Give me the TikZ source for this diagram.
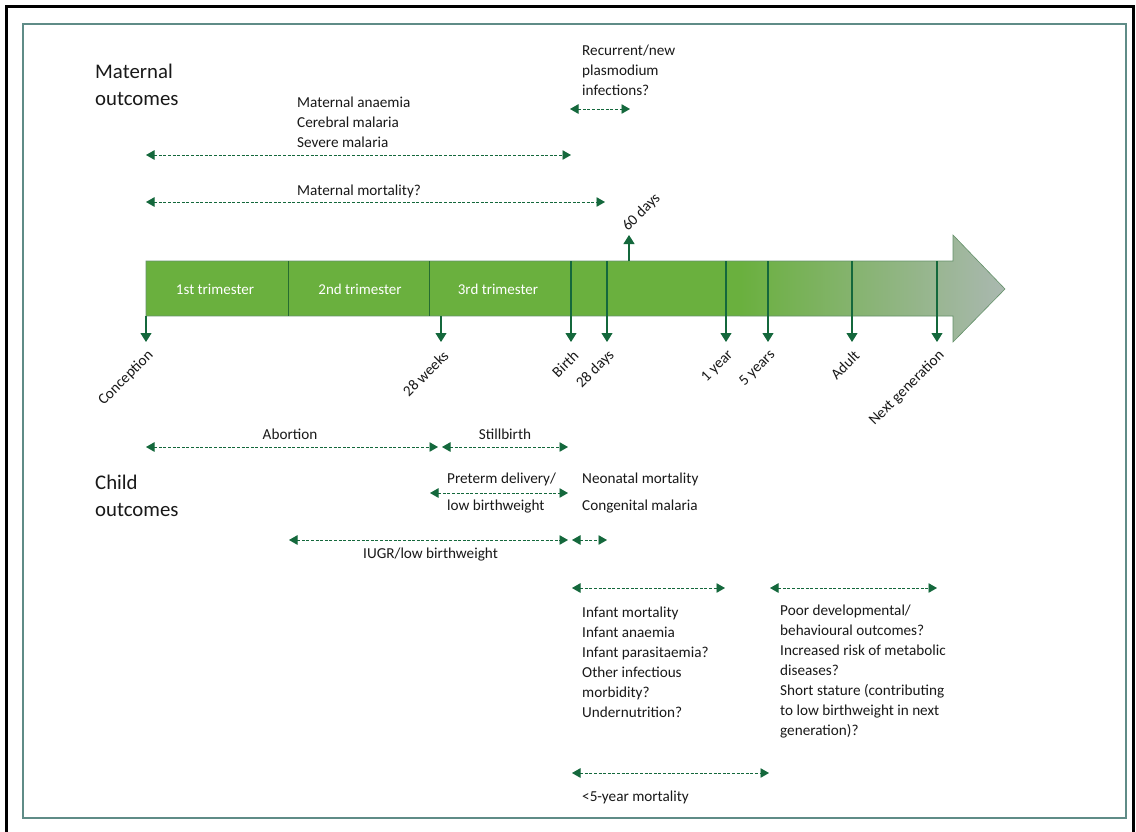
\documentclass[tikz,border=0pt]{standalone}
\usepackage{fontspec}
\setmainfont{Carlito}
\usetikzlibrary{arrows.meta}
\definecolor{barg}{RGB}{106,176,62}
\definecolor{midg}{RGB}{140,180,125}
\definecolor{fadeg}{RGB}{170,184,176}
\definecolor{darkg}{RGB}{20,104,60}
\definecolor{divg}{RGB}{38,108,48}
\definecolor{framec}{RGB}{95,140,135}
\definecolor{edgec}{RGB}{100,145,105}
\definecolor{txtc}{RGB}{25,25,25}
\tikzset{
  dsh/.style={darkg, line width=0.9pt, dash pattern=on 3pt off 1.6pt,
    {Triangle[length=8.5pt,width=9.5pt]}-{Triangle[length=8.5pt,width=9.5pt]}},
  tick/.style={darkg, line width=1.1pt, -{Triangle[length=9pt,width=11pt]}},
  txt/.style={font=\fontsize{15.2}{20}\selectfont, text=txtc, inner sep=0pt, align=left},
  head/.style={font=\fontsize{20.8}{27}\selectfont, text=txtc, inner sep=0pt, align=left},
  rlab/.style={txt, rotate=45, anchor=east},
  trim/.style={font=\fontsize{15}{16}\selectfont, text=white, inner sep=0pt}
}
\begin{document}
\begin{tikzpicture}[x=1pt,y=-1pt]
\useasboundingbox (0,0) rectangle (1136,831);
\fill[white] (0,0) rectangle (1136,831);
% outer black border
\draw[black, line width=3.5pt] (6.5,835) -- (6.5,6.5) -- (1133.5,6.5) -- (1133.5,835);
% inner frame
\draw[framec, line width=1.2pt] (23,24) rectangle (1126,818);

% timeline bar
\fill[barg] (146,261) rectangle (741,316);
\shade[left color=barg, middle color=midg, right color=fadeg] (740,261) -- (953,261) -- (953,235) -- (1005,289) -- (953,342) -- (953,316) -- (740,316) -- cycle;
\draw[edgec, line width=0.6pt] (146,261) -- (953,261) -- (953,235) -- (1005,289) -- (953,342) -- (953,316) -- (146,316) -- cycle;
\draw[divg, line width=1pt] (288,261) -- (288,316);
\draw[divg, line width=1pt] (429,261) -- (429,316);

\node[trim] (t1) at (215,289) {1st trimester};
\node[trim] (t2) at (360,289) {2nd trimester};
\node[trim] (t3) at (498,289) {3rd trimester};

% ticks
\foreach \n/\x/\y in {conc/146/316, w28/441/316, birth/571/261, d28/607/261, y1/726/261, y5/768/261, adult/852/261, nextg/937/261}{
  \coordinate (s\n) at (\x,\y);
  \coordinate (e\n) at (\x,342);
  \draw[tick] (s\n) -- (e\n);
}
\coordinate (s60) at (629,261);
\coordinate (e60) at (629,235);
\draw[tick] (s60) -- (e60);

\node[rlab] (lconc) at (151,353) {Conception};
\node[rlab] (lw28) at (446,353) {28 weeks};
\node[rlab] (lbirth) at (576,353) {Birth};
\node[rlab] (ld28) at (612,353) {28 days};
\node[rlab] (ly1) at (731,353) {1 year};
\node[rlab] (ly5) at (773,353) {5 years};
\node[rlab] (ladult) at (857,353) {Adult};
\node[rlab] (lnextg) at (942,353) {Next generation};
\node[txt, rotate=45, anchor=west] (l60) at (625,229) {60 days};

% maternal outcomes
\node[head, anchor=west] (mhead) at (95,85) {Maternal\\outcomes};
\node[txt, anchor=west] (mlist) at (297,122) {Maternal anaemia\\Cerebral malaria\\Severe malaria};
\node[txt, anchor=west] (mmort) at (297,191) {Maternal mortality?};
\node[txt, anchor=west] (recur) at (582,70) {Recurrent/new\\plasmodium\\infections?};

\coordinate (m1a) at (146,155); \coordinate (m1b) at (571,155);
\coordinate (m2a) at (146,202); \coordinate (m2b) at (605,202);
\coordinate (ra) at (570,109); \coordinate (rb) at (630,109);
\draw[dsh] (m1a) -- (m1b);
\draw[dsh] (m2a) -- (m2b);
\draw[dsh] (ra) -- (rb);

% child outcomes
\node[head, anchor=west] (chead) at (95,496) {Child\\outcomes};
\node[txt] (abort) at (290,434) {Abortion};
\node[txt] (still) at (505,434) {Stillbirth};
\node[txt, anchor=west, font=\fontsize{15.2}{27}\selectfont] (pret) at (447,493) {Preterm delivery/\\low birthweight};
\node[txt, anchor=west, font=\fontsize{15.2}{27}\selectfont] (neo) at (582,493) {Neonatal mortality\\Congenital malaria};
\node[txt, anchor=west] (iugr) at (363,555) {IUGR/low birthweight};
\node[txt, anchor=west] (infant) at (582,662) {Infant mortality\\Infant anaemia\\Infant parasitaemia?\\Other infectious\\morbidity?\\Undernutrition?};
\node[txt, anchor=west] (poor) at (780,672) {Poor developmental/\\behavioural outcomes?\\Increased risk of metabolic\\diseases?\\Short stature (contributing\\to low birthweight in next\\generation)?};
\node[txt, anchor=west] (u5) at (582,797) {<5-year mortality};

\coordinate (aa) at (146,447); \coordinate (ab) at (438,447);
\coordinate (sa) at (442,447); \coordinate (sb) at (568,447);
\coordinate (pa) at (430,493); \coordinate (pb) at (568,493);
\coordinate (ia) at (289,540); \coordinate (ib) at (568,540);
\coordinate (na) at (572,540); \coordinate (nb) at (607,540);
\coordinate (fa) at (572,588); \coordinate (fb) at (725,588);
\coordinate (ga) at (770,588); \coordinate (gb) at (937,588);
\coordinate (ua) at (572,773); \coordinate (ub) at (769,773);
\draw[dsh] (aa) -- (ab);
\draw[dsh] (sa) -- (sb);
\draw[dsh] (pa) -- (pb);
\draw[dsh] (ia) -- (ib);
\draw[dsh] (na) -- (nb);
\draw[dsh] (fa) -- (fb);
\draw[dsh] (ga) -- (gb);
\draw[dsh] (ua) -- (ub);
\end{tikzpicture}
\end{document}
